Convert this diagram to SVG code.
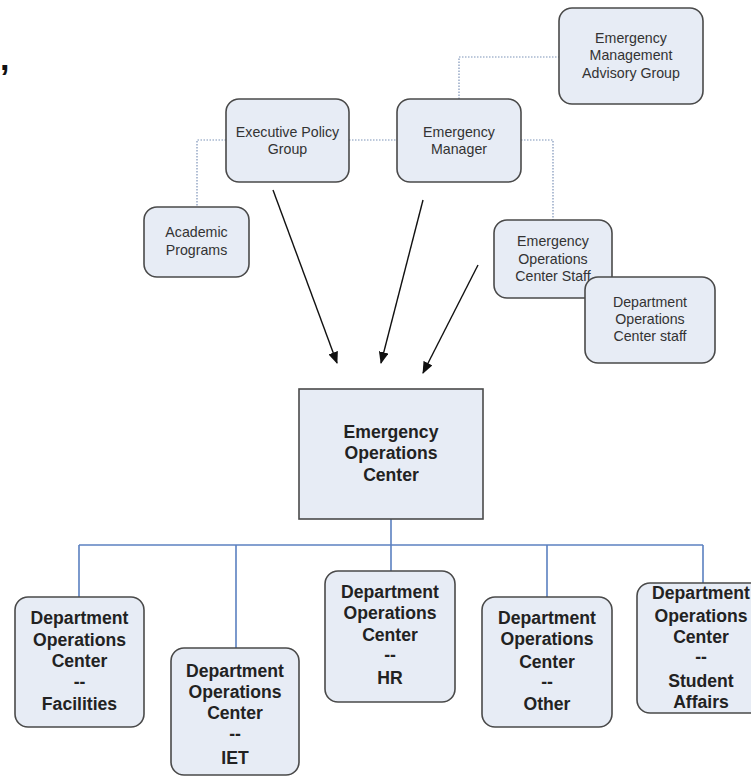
<svg xmlns="http://www.w3.org/2000/svg" width="751" height="776" viewBox="0 0 751 776">
<style>
.box{fill:#e7ecf5;stroke:#4a4a4a;stroke-width:1.6}
.t{font-family:"Liberation Sans",Arial,sans-serif;font-size:14.2px;fill:#333;text-anchor:middle}
.b{font-family:"Liberation Sans",Arial,sans-serif;font-size:17.6px;font-weight:bold;fill:#222;text-anchor:middle}
.dot{fill:none;stroke:#7d93b8;stroke-width:1.2;stroke-dasharray:1.5 1.5}
.arr{fill:none;stroke:#111;stroke-width:1.4;marker-end:url(#ah)}
.blue{fill:none;stroke:#5b80c0;stroke-width:1.6}
</style>
<defs>
<marker id="ah" markerWidth="12" markerHeight="10" refX="11" refY="5" orient="auto" markerUnits="userSpaceOnUse">
<path d="M0,0 L12,5 L0,10 Z" fill="#111"/>
</marker>
</defs>
<rect width="751" height="776" fill="#fff"/>
<text x="0" y="70" style="font-family:'Liberation Sans',Arial,sans-serif;font-size:34px;font-weight:bold;fill:#111">,</text>
<g id="connectors">
<path class="dot" d="M226,140 H197 V207"/>
<path class="dot" d="M349,140 H397"/>
<path class="dot" d="M459,99 V57 H559"/>
<path class="dot" d="M521,140 H553 V220"/>
<line class="arr" x1="273" y1="190" x2="337" y2="363"/>
<line class="arr" x1="423" y1="200" x2="381" y2="363"/>
<line class="arr" x1="478" y1="265" x2="423" y2="373"/>
<path class="blue" d="M391,519 V545"/>
<path class="blue" d="M79,545 H703"/>
<path class="blue" d="M79,545 V597"/>
<path class="blue" d="M236,545 V648"/>
<path class="blue" d="M391,545 V571"/>
<path class="blue" d="M547,545 V597"/>
<path class="blue" d="M703,545 V583"/>
</g>
<g id="executive-policy-group">
<rect class="box" x="226" y="99" width="123" height="83" rx="13"/>
<text class="t" x="287.5" y="137">Executive Policy</text>
<text class="t" x="287.5" y="154">Group</text>
</g>
<g id="academic-programs">
<rect class="box" x="144" y="207" width="105" height="70" rx="13"/>
<text class="t" x="196.5" y="237">Academic</text>
<text class="t" x="196.5" y="255">Programs</text>
</g>
<g id="emergency-manager">
<rect class="box" x="397" y="99" width="124" height="83" rx="13"/>
<text class="t" x="459" y="137">Emergency</text>
<text class="t" x="459" y="154">Manager</text>
</g>
<g id="advisory-group">
<rect class="box" x="559" y="8" width="144" height="96" rx="13"/>
<text class="t" x="631" y="43">Emergency</text>
<text class="t" x="631" y="60">Management</text>
<text class="t" x="631" y="78">Advisory Group</text>
</g>
<g id="eoc-staff">
<rect class="box" x="494" y="220" width="118" height="78" rx="13"/>
<text class="t" x="553" y="246">Emergency</text>
<text class="t" x="553" y="264">Operations</text>
<text class="t" x="553" y="281">Center Staff</text>
</g>
<g id="doc-staff">
<rect class="box" x="585" y="277" width="130" height="86" rx="13"/>
<text class="t" x="650" y="307">Department</text>
<text class="t" x="650" y="324">Operations</text>
<text class="t" x="650" y="341">Center staff</text>
</g>
<g id="eoc">
<rect class="box" x="299" y="389" width="184" height="130"/>
<text class="b" x="391" y="438">Emergency</text>
<text class="b" x="391" y="459">Operations</text>
<text class="b" x="391" y="481">Center</text>
</g>
<g id="doc-facilities">
<rect class="box" x="15" y="597" width="129" height="130" rx="13"/>
<text class="b" x="79.5" y="624">Department</text>
<text class="b" x="79.5" y="646">Operations</text>
<text class="b" x="79.5" y="667">Center</text>
<text class="b" x="79.5" y="688">--</text>
<text class="b" x="79.5" y="710">Facilities</text>
</g>
<g id="doc-iet">
<rect class="box" x="171" y="648" width="128" height="127" rx="13"/>
<text class="b" x="235" y="677">Department</text>
<text class="b" x="235" y="698">Operations</text>
<text class="b" x="235" y="719">Center</text>
<text class="b" x="235" y="740">--</text>
<text class="b" x="235" y="764">IET</text>
</g>
<g id="doc-hr">
<rect class="box" x="325" y="571" width="130" height="131" rx="13"/>
<text class="b" x="390" y="598">Department</text>
<text class="b" x="390" y="619">Operations</text>
<text class="b" x="390" y="641">Center</text>
<text class="b" x="390" y="661">--</text>
<text class="b" x="390" y="684">HR</text>
</g>
<g id="doc-other">
<rect class="box" x="482" y="597" width="130" height="130" rx="13"/>
<text class="b" x="547" y="624">Department</text>
<text class="b" x="547" y="645">Operations</text>
<text class="b" x="547" y="668">Center</text>
<text class="b" x="547" y="688">--</text>
<text class="b" x="547" y="710">Other</text>
</g>
<g id="doc-student-affairs">
<rect class="box" x="637" y="583" width="130" height="130" rx="13"/>
<text class="b" x="701" y="599">Department</text>
<text class="b" x="701" y="622">Operations</text>
<text class="b" x="701" y="643">Center</text>
<text class="b" x="701" y="663">--</text>
<text class="b" x="701" y="687">Student</text>
<text class="b" x="701" y="708">Affairs</text>
</g>
</svg>
